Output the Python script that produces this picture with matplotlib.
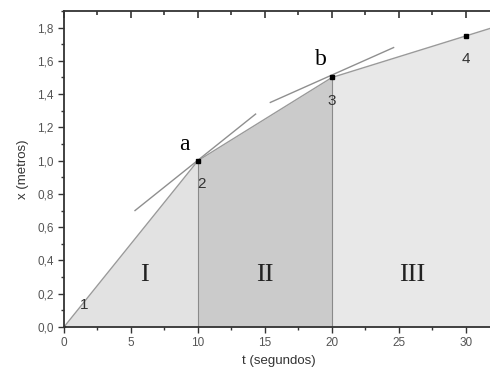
import numpy as np
from matplotlib import pyplot as plt
from matplotlib.ticker import MultipleLocator, FuncFormatter, NullFormatter

# measured points (t in s, x in m)
t_pts = [0, 10, 20, 30, 32]
x_pts = [0.0, 1.0, 1.5, 1.75, 1.80]
point_labels = ['1', '2', '3', '4']
regions = ['I', 'II', 'III']

# tangents at a and b
tan_a_t = [5.3, 14.3]
tan_a_x = [0.70, 1.28]
tan_b_t = [15.4, 24.6]
tan_b_x = [1.35, 1.68]

plt.rcParams['font.family'] = ['Liberation Sans', 'DejaVu Sans']

fig = plt.figure(figsize=(4.9, 3.78), dpi=100)
ax = fig.add_axes([0.1306, 0.135, 0.875, 0.836])

t = np.array(t_pts)
x = np.array(x_pts)

# shaded regions under the curve
ax.fill_between(t[:2], x[:2], color='#e2e2e2', lw=0)
ax.fill_between(t[1:3], x[1:3], color='#cbcbcb', lw=0)
ax.fill_between(t[2:], x[2:], color='#e8e8e8', lw=0)
ax.vlines([10, 20], 0, [1.0, 1.5], color='#8a8a8a', lw=0.8)

ax.plot(t, x, color='#9a9a9a', lw=1.0)
ax.plot(tan_a_t, tan_a_x, color='#8f8f8f', lw=1.0)
ax.plot(tan_b_t, tan_b_x, color='#8f8f8f', lw=1.0)
ax.plot(t[1:4], x[1:4], 's', color='black', ms=3.5)
ax.plot([0], [0], 's', color='#333333', ms=2)

# labels
ax.text(1.5, 0.13, point_labels[0], fontsize=11, color='#333333', ha='center', va='center')
ax.text(10.3, 0.86, point_labels[1], fontsize=11, color='#333333', ha='center', va='center')
ax.text(20.0, 1.36, point_labels[2], fontsize=11, color='#333333', ha='center', va='center')
ax.text(30.0, 1.61, point_labels[3], fontsize=11, color='#333333', ha='center', va='center')
ax.text(9.0, 1.10, 'a', fontsize=17, family='Liberation Serif', ha='center', va='center')
ax.text(19.2, 1.61, 'b', fontsize=17, family='Liberation Serif', ha='center', va='center')
for xp, s in zip([6.0, 15.0, 26.0], regions):
    ax.text(xp, 0.31, s, fontsize=19, family='Liberation Serif', ha='center', va='center',
            color='#222222')

ax.set_xlim(0, 32)
ax.set_ylim(0, 1.9)
ax.xaxis.set_major_locator(MultipleLocator(5))
ax.xaxis.set_minor_locator(MultipleLocator(2.5))
ax.yaxis.set_major_locator(MultipleLocator(0.2))
ax.yaxis.set_minor_locator(MultipleLocator(0.1))
ax.yaxis.set_major_formatter(FuncFormatter(lambda v, p: f'{v:.1f}'.replace('.', ',')))

for s in ['left', 'bottom', 'top']:
    ax.spines[s].set_color('#333333')
    ax.spines[s].set_linewidth(1.3)
ax.spines['right'].set_visible(False)

ax.tick_params(which='both', colors='#333333', labelcolor='#555555', labelsize=8.5,
               width=1.0, direction='out')
ax.tick_params(which='major', length=4)
ax.tick_params(which='minor', length=2)

# inward ticks along the top edge
top = ax.twiny()
top.set_xlim(ax.get_xlim())
top.xaxis.set_major_locator(MultipleLocator(5))
top.xaxis.set_minor_locator(MultipleLocator(2.5))
top.xaxis.set_major_formatter(NullFormatter())
for s in top.spines.values():
    s.set_visible(False)
top.tick_params(which='both', direction='in', color='#333333', width=1.2)
top.tick_params(which='major', length=5)
top.tick_params(which='minor', length=3)

ax.set_xlabel('t (segundos)', fontsize=9.5, color='#333333', labelpad=4)
ax.set_ylabel('x (metros)', fontsize=9.5, color='#333333', labelpad=6)

plt.savefig('out.png', dpi=100)
